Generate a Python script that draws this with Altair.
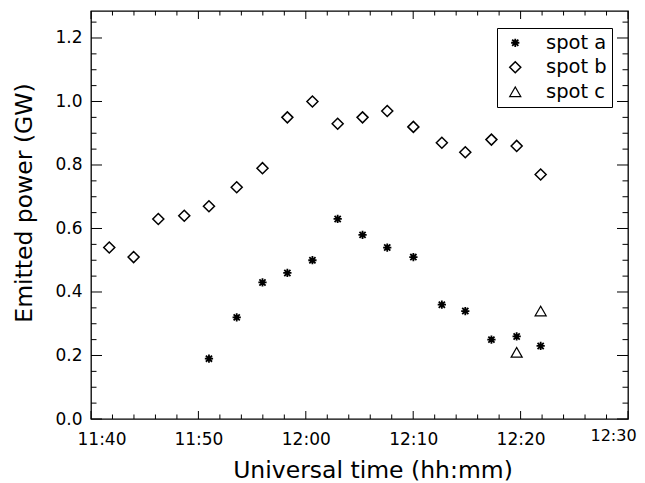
import altair as alt
import pandas as pd

# ---- data ----
series_names = ["spot a", "spot b", "spot c"]

time_b = ["11:41:42", "11:43:58", "11:46:16", "11:48:41", "11:50:59", "11:53:34",
          "11:55:58", "11:58:17", "12:00:37", "12:02:58", "12:05:17", "12:07:35",
          "12:10:01", "12:12:40", "12:14:51", "12:17:17", "12:19:38", "12:21:52"]
power_b = [0.54, 0.51, 0.63, 0.64, 0.67, 0.73, 0.79, 0.95, 1.00, 0.93, 0.95, 0.97,
           0.92, 0.87, 0.84, 0.88, 0.86, 0.77]

time_a = ["11:50:59", "11:53:34", "11:55:58", "11:58:17", "12:00:37", "12:02:58",
          "12:05:17", "12:07:35", "12:10:01", "12:12:40", "12:14:51", "12:17:17",
          "12:19:38", "12:21:52"]
power_a = [0.19, 0.32, 0.43, 0.46, 0.50, 0.63, 0.58, 0.54, 0.51, 0.36, 0.34, 0.25,
           0.26, 0.23]

time_c = ["12:19:38", "12:21:52"]
power_c = [0.21, 0.34]

# axis ticks (minutes of the day / GW)
x_major = [700, 710, 720, 730, 740, 750]
x_minor = [702, 704, 706, 708, 712, 714, 716, 718, 722, 724, 726, 728, 732, 734, 736,
           738, 742, 744, 746, 748]
y_major = [0.0, 0.2, 0.4, 0.6, 0.8, 1.0, 1.2]
y_minor = [0.05, 0.1, 0.15, 0.25, 0.3, 0.35, 0.45, 0.5, 0.55, 0.65, 0.7, 0.75, 0.85,
           0.9, 0.95, 1.05, 1.1, 1.15, 1.25]


def to_min(s):
    h, m, sec = (int(v) for v in s.split(":"))
    return h * 60 + m + sec / 60.0


rows = []
for name, ts, ps in [("spot a", time_a, power_a), ("spot b", time_b, power_b),
                     ("spot c", time_c, power_c)]:
    for t, p in zip(ts, ps):
        rows.append({"time": to_min(t), "power": p, "series": name})
df = pd.DataFrame(rows)

W, H = 537, 408
FONT = "DejaVu Sans"

xscale = alt.Scale(domain=[700, 750], nice=False, zero=False)
yscale = alt.Scale(domain=[0, 1.285], nice=False, zero=False)

asterisk = ("M-0.75,0L0.75,0M0,-0.75L0,0.75M-0.56,-0.56L0.56,0.56"
            "M-0.56,0.56L0.56,-0.56")
shapes = [asterisk, "diamond", "triangle-up"]
stroke_widths = [1.8, 1.25, 1.25]

x_axis = alt.Axis(
    values=x_major,
    labelExpr="floor(datum.value/60) + ':' + (datum.value % 60 == 0 ? '00' : datum.value % 60)",
    ticks=False, tickSize=0, domain=False, grid=False,
    labelFont=FONT, labelColor="black",
    labelFontSize={"condition": {"test": "datum.value == 750", "value": 16}, "value": 17},
    labelPadding={"condition": {"test": "datum.value == 750", "value": 8}, "value": 12},
    labelOffset=alt.ExprRef("datum.value == 700 ? 10.5 : (datum.value == 750 ? -15 : 0)"),
    labelFlush=False, labelOverlap=False,
    title="Universal time (hh:mm)", titleFont=FONT, titleFontSize=23.5,
    titleFontWeight="normal", titleColor="black",
    titleX=281.5, titleY=58, titleAlign="center", titleBaseline="alphabetic",
)

y_axis = alt.Axis(
    values=y_major, format=".1f",
    ticks=False, tickSize=0, domain=False, grid=False,
    labelFont=FONT, labelFontSize=17, labelColor="black", labelPadding=9,
    labelOverlap=False,
    title="Emitted power (GW)", titleFont=FONT, titleFontSize=23.5,
    titleFontWeight="normal", titleColor="black",
    titleX=-60, titleY=191.5, titleAngle=270, titleAlign="center",
    titleBaseline="alphabetic",
)


def x_ticks(values, y0, y1):
    return alt.Chart(pd.DataFrame({"t": values})).mark_rule(
        color="black", strokeWidth=1
    ).encode(
        x=alt.X("t:Q", scale=xscale, axis=x_axis),
        y=alt.value(y0), y2=alt.value(y1),
    )


def y_ticks(values, x0, x1):
    return alt.Chart(pd.DataFrame({"v": values})).mark_rule(
        color="black", strokeWidth=1
    ).encode(
        y=alt.Y("v:Q", scale=yscale, axis=y_axis),
        x=alt.value(x0), x2=alt.value(x1),
    )


tick_layers = [
    x_ticks(x_major, H, H - 8), x_ticks(x_minor, H, H - 4.5),
    x_ticks(x_major, 0, 8), x_ticks(x_minor, 0, 4.5),
    y_ticks(y_major, 0, 11), y_ticks(y_minor, 0, 5.5),
    y_ticks(y_major, W, W - 11), y_ticks(y_minor, W, W - 5.5),
]

legend = alt.Legend(
    title=None, orient="none", legendX=406, legendY=17,
    strokeColor="black", fillColor="white", padding=5,
    labelFont=FONT, labelFontSize=19.5, labelColor="black",
    labelOffset=21, rowPadding=3.5, symbolOffset=3.5,
    symbolSize=121, symbolStrokeColor="black",
)

points = alt.Chart(df).mark_point(
    filled=False, size=121, color="black", opacity=1
).encode(
    x=alt.X("time:Q", scale=xscale, axis=x_axis),
    y=alt.Y("power:Q", scale=yscale, axis=y_axis),
    shape=alt.Shape(
        "series:N",
        scale=alt.Scale(domain=series_names, range=shapes),
        legend=legend,
    ),
    strokeWidth=alt.StrokeWidth(
        "series:N",
        scale=alt.Scale(domain=series_names, range=stroke_widths),
        legend=legend,
    ),
)

chart = alt.layer(*tick_layers, points).properties(
    width=W, height=H,
    autosize=alt.AutoSizeParams(type="none"),
    padding={"left": 83, "top": 3, "right": 9, "bottom": 64},
    background="white",
).configure_view(stroke="black", strokeWidth=1.3)

chart.save("out.html", embed_options={"renderer": "svg", "actions": False})
